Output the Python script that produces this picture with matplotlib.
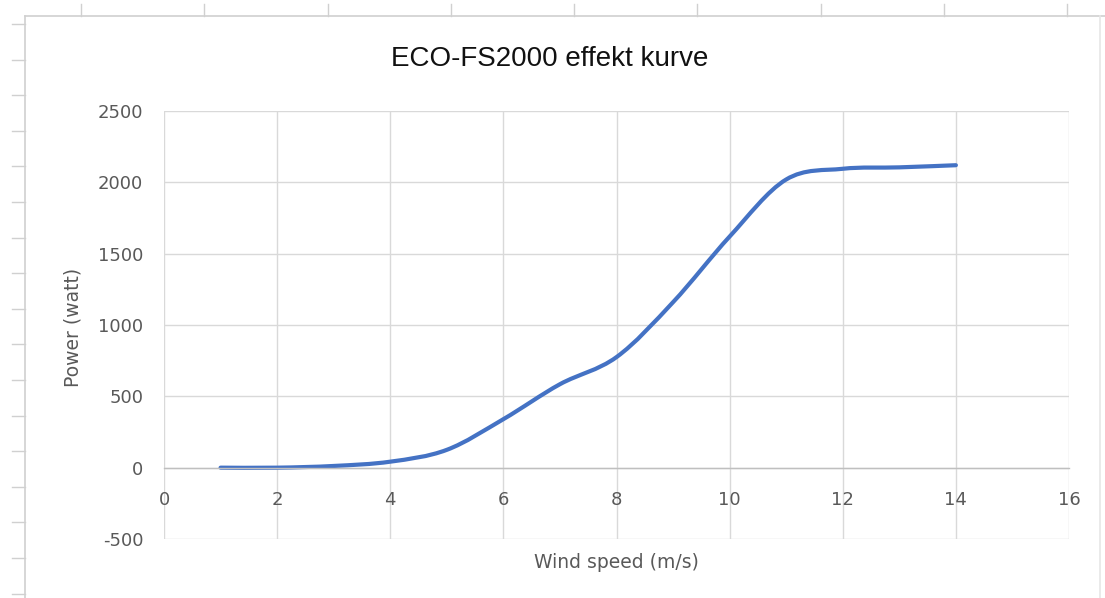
"""
ECO-FS2000 effektkurve, gjenskapt fra et Excel-diagram.
"""

import matplotlib
matplotlib.use("Agg")
import matplotlib.pyplot as plt
import numpy as np
from matplotlib.lines import Line2D
from matplotlib.patches import PathPatch
from matplotlib.path import Path

plt.rcParams["axes.unicode_minus"] = False   # Excel viser "-500" med bindestrek

# data lest av bildet
wind_speed = [1, 2, 3, 4, 5, 6, 7, 8, 9, 10, 11, 12, 13, 14]
power = [0, 0, 12, 42, 125, 340, 585, 775, 1160, 1620, 2020, 2095, 2105, 2120]

x_ticks = [0, 2, 4, 6, 8, 10, 12, 14, 16]
y_ticks = [-500, 0, 500, 1000, 1500, 2000, 2500]

title = "ECO-FS2000 effekt kurve"
x_label = "Wind speed (m/s)"
y_label = "Power (watt)"

W, H = 1105, 598
LINE = "#4472C4"
GRID = "#d9d9d9"
TEXT = "#595959"


def smooth_path(xs, ys):
    """Glatt linje som Excel: Bezier-segmenter (Catmull-Rom) gjennom punktene."""
    p = np.column_stack([xs, ys]).astype(float)
    ext = np.vstack([p[0], p, p[-1]])
    verts, codes = [p[0]], [Path.MOVETO]
    for i in range(len(p) - 1):
        p0, p1, p2, p3 = ext[i], ext[i + 1], ext[i + 2], ext[i + 3]
        verts += [p1 + (p2 - p0) / 6, p2 - (p3 - p1) / 6, p2]
        codes += [Path.CURVE4] * 3
    return Path(verts, codes)


fig = plt.figure(figsize=(W / 100, H / 100), dpi=100)
fig.patch.set_facecolor("white")

# regneark-bakgrunn: kolonne- og radmarkeringer rundt diagramområdet
def fx(px):
    return px / W


def fy(py):
    return 1 - py / H


for px in np.arange(81, W, 123.25):
    fig.add_artist(Line2D([fx(px)] * 2, [fy(4), fy(16)], color="#d0d0d0", lw=1))
for py in np.arange(24, H, 35.6):
    fig.add_artist(Line2D([fx(12), fx(25)], [fy(py)] * 2, color="#d0d0d0", lw=1))
# ramme rundt diagramområdet
fig.add_artist(Line2D([fx(25), fx(25)], [fy(16), 0], color="#d0d0d0", lw=1.2))
fig.add_artist(Line2D([fx(25), 1], [fy(16), fy(16)], color="#d0d0d0", lw=1.2))
fig.add_artist(Line2D([fx(1100), fx(1100)], [fy(16), 0], color="#e6e6e6", lw=1.2))

ax = fig.add_axes([fx(164), fy(539), fx(1069) - fx(164), fy(111) - fy(539)])
ax.set_xlim(0, 16)
ax.set_ylim(-500, 2500)
ax.set_xticks(x_ticks)
ax.set_yticks(y_ticks)
ax.grid(True, color=GRID, linewidth=1)
ax.set_axisbelow(True)

for side in ("top", "right", "left"):
    ax.spines[side].set_visible(False)
ax.spines["bottom"].set_position(("data", 0))
ax.spines["bottom"].set_color("#bfbfbf")
ax.spines["bottom"].set_linewidth(1)

ax.tick_params(axis="both", length=0, labelsize=13, labelcolor=TEXT)
ax.tick_params(axis="x", pad=17)
ax.tick_params(axis="y", pad=15)

ax.add_patch(PathPatch(smooth_path(wind_speed, power), fill=False,
                       edgecolor=LINE, linewidth=3, capstyle="round",
                       joinstyle="round"))

fig.text(fx(550), fy(59), title, ha="center", va="center", fontsize=20,
         family="Liberation Sans", color="#111111")
fig.text(fx(616), fy(562), x_label, ha="center", va="center", fontsize=13.5,
         color=TEXT)
fig.text(fx(73), fy(327), y_label, ha="center", va="center", fontsize=13.5,
         color=TEXT, rotation=90)

fig.savefig("out.png", dpi=100)
plt.close(fig)
